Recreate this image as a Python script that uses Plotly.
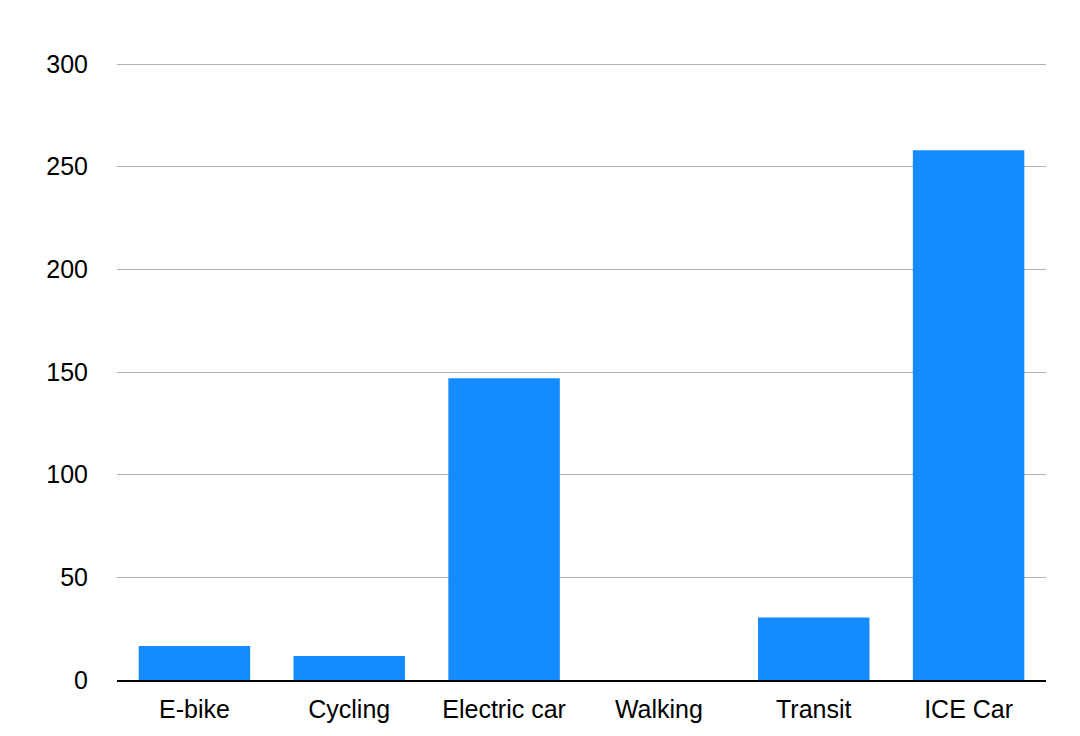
import plotly.graph_objects as go

categories = ["E-bike", "Cycling", "Electric car", "Walking", "Transit", "ICE Car"]
values = [16.6, 11.7, 147, 0, 30.5, 258]
y_ticks = [0, 50, 100, 150, 200, 250, 300]

fig = go.Figure(go.Bar(x=categories, y=values, marker=dict(color="#148CFF", line=dict(width=0)), width=0.72))

fig.update_layout(
    width=1080, height=736,
    margin=dict(l=109, r=42, t=54, b=64),
    paper_bgcolor="white", plot_bgcolor="white",
    font=dict(family="Liberation Sans, Arial, Helvetica, sans-serif", size=25, color="black"),
    showlegend=False,
    bargap=0.28,
)
fig.update_yaxes(range=[0, 301], tickvals=y_ticks, showgrid=True, gridcolor="#b0b0b0", gridwidth=1,
                 zeroline=False, showline=False, ticks="", ticklabelstandoff=28)
fig.update_xaxes(showline=True, linecolor="black", linewidth=2, ticks="", ticklabelstandoff=6)

fig.write_html("out.html")
